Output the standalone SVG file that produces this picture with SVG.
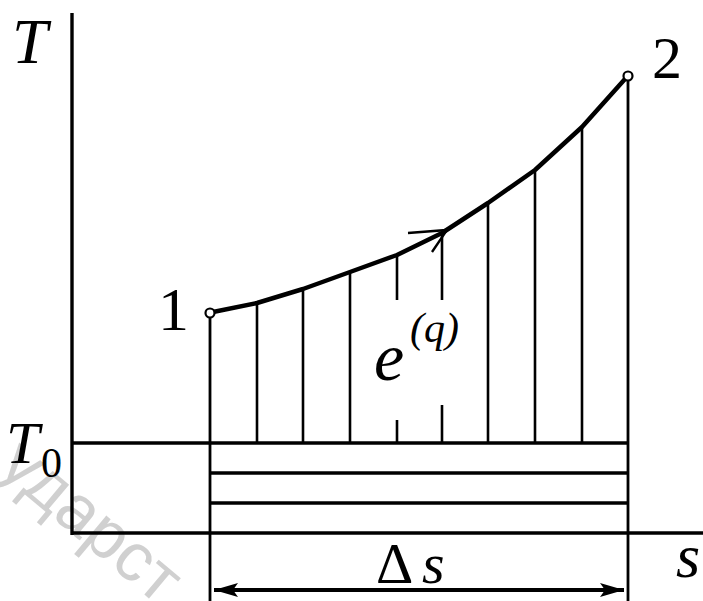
<svg xmlns="http://www.w3.org/2000/svg" width="703" height="601" viewBox="0 0 703 601">
<style>
.ax{stroke:#000;stroke-width:3.4;fill:none}
.ln{stroke:#000;stroke-width:2.8;fill:none}
.hx{stroke:#000;stroke-width:2.6;fill:none}
.cv{stroke:#000;stroke-width:4.5;fill:none;stroke-linejoin:round;stroke-linecap:round}
.lbl{fill:#000;font-family:'Liberation Serif','Times New Roman',serif}
.it{font-style:italic}
.wm{fill:#c4c4c4;fill-opacity:0.8;font-family:'Liberation Sans',Arial,sans-serif}
</style>
<defs>
<marker id="ah" viewBox="0 0 24 14" refX="24" refY="7" markerWidth="24" markerHeight="14" markerUnits="userSpaceOnUse" orient="auto-start-reverse">
<path d="M0,0 L24,7 L0,14 L5,7 Z" fill="#000"/>
</marker>
</defs>
<rect width="703" height="601" fill="#fff"/>
<text class="wm" font-size="68" transform="translate(-4,470) rotate(40)">ударст</text>
<g id="axes">
<line class="ax" x1="72" y1="13" x2="72" y2="535"/>
<line class="ax" x1="72" y1="533" x2="703" y2="533"/>
<line class="ax" x1="72" y1="443" x2="628" y2="443"/>
<line class="ax" x1="210" y1="473" x2="628" y2="473"/>
<line class="ax" x1="210" y1="503" x2="628" y2="503"/>
</g>
<g id="connectors">
<line class="ln" x1="210" y1="317" x2="210" y2="601"/>
<line class="ln" x1="628" y1="80" x2="628" y2="601"/>
<line class="hx" x1="257" y1="303" x2="257" y2="443"/>
<line class="hx" x1="303" y1="289" x2="303" y2="443"/>
<line class="hx" x1="350" y1="272" x2="350" y2="443"/>
<line class="hx" x1="397" y1="255" x2="397" y2="300"/>
<line class="hx" x1="397" y1="420" x2="397" y2="443"/>
<line class="hx" x1="442" y1="234" x2="442" y2="300"/>
<line class="hx" x1="442" y1="405" x2="442" y2="443"/>
<line class="hx" x1="488" y1="203" x2="488" y2="443"/>
<line class="hx" x1="535" y1="170" x2="535" y2="443"/>
<line class="hx" x1="582" y1="127" x2="582" y2="443"/>
<polyline class="cv" points="213,312 257,303 303,289 350,272 397,255 442,233 488,203 535,170 582,127 625,79"/>
<path d="M408,233 L447,230 L432,252" stroke="#000" stroke-width="2.4" fill="none"/>
<line x1="214" y1="590" x2="624" y2="590" stroke="#000" stroke-width="3.8" marker-start="url(#ah)" marker-end="url(#ah)"/>
</g>
<g id="point1">
<circle cx="210" cy="313" r="4.5" fill="#fff" stroke="#000" stroke-width="2.2"/>
<text class="lbl" x="158" y="330" font-size="62">1</text>
</g>
<g id="point2">
<circle cx="628" cy="76" r="4.5" fill="#fff" stroke="#000" stroke-width="2.2"/>
<text class="lbl" x="652" y="78" font-size="60">2</text>
</g>
<g id="labels">
<text class="lbl it" x="12" y="63" font-size="64">T</text>
<text class="lbl it" x="6" y="463" font-size="60">T</text>
<text class="lbl" x="41" y="477" font-size="42">0</text>
<text class="lbl it" x="374" y="380" font-size="68">e</text>
<text class="lbl it" x="410" y="342" font-size="42">(q)</text>
<text class="lbl" x="376" y="583" font-size="58">Δ</text>
<text class="lbl it" x="422" y="583" font-size="58">s</text>
<text class="lbl it" x="676" y="577" font-size="62">s</text>
</g>
</svg>
